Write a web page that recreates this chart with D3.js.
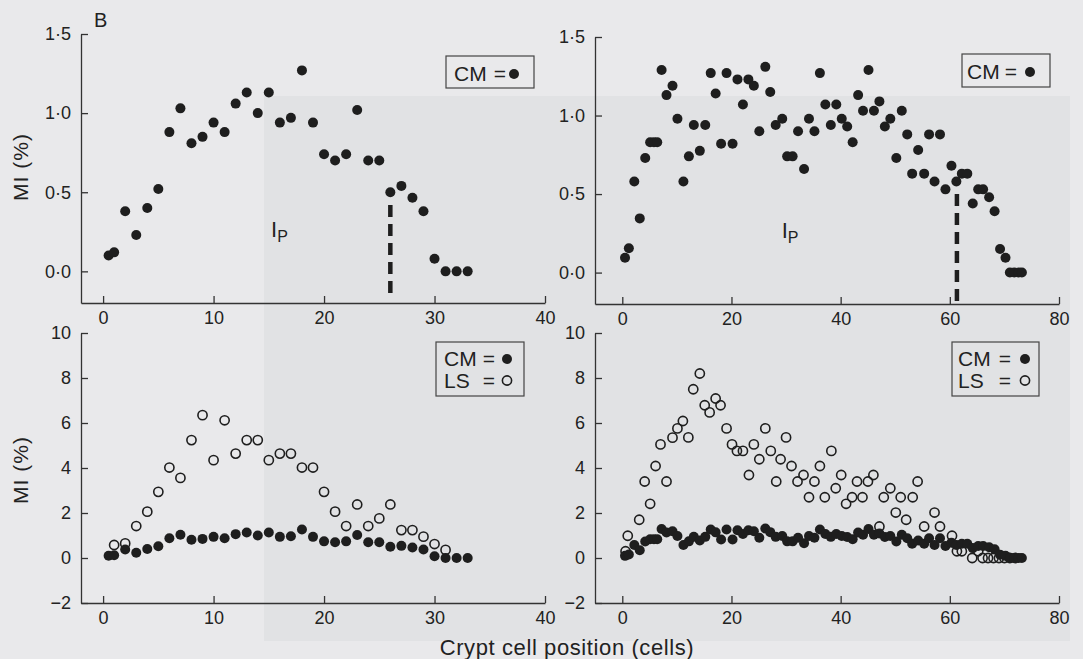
<!DOCTYPE html>
<html>
<head>
<meta charset="utf-8">
<script src="https://cdn.jsdelivr.net/npm/d3@7/dist/d3.min.js"></script>
<style>
  html, body { margin: 0; padding: 0; background: #e9e9eb; }
  svg { display: block; }
  text { font-family: "Liberation Sans", Arial, Helvetica, sans-serif; fill: #222; }
</style>
</head>
<body>
<div id="chart"></div>
<script>
// ---- data ----
// short crypts (top-left / bottom-left), CM = filled dots
const cellsShort = [0.5, 1, 2, 3, 4, 5, 6, 7, 8, 9, 10, 11, 12, 13, 14, 15, 16, 17, 18, 19, 20, 21, 22, 23, 24, 25, 26, 27, 28, 29, 30, 31, 32, 33]
const cmShort = [0.10, 0.12, 0.38, 0.23, 0.40, 0.52, 0.88, 1.03, 0.81, 0.85, 0.94, 0.88, 1.06, 1.13, 1.00, 1.13, 0.94, 0.97, 1.27, 0.94, 0.74, 0.70, 0.74, 1.02, 0.70, 0.70, 0.50, 0.54, 0.465, 0.38, 0.08, 0, 0, 0]
// short crypts, LS = open circles
const lsCellsShort = [1, 2, 3, 4, 5, 6, 7, 8, 9, 10, 11, 12, 13, 14, 15, 16, 17, 18, 19, 20, 21, 22, 23, 24, 25, 26, 27, 28, 29, 30, 31]
const lsShort = [0.58, 0.65, 1.42, 2.06, 2.94, 4.02, 3.56, 5.24, 6.35, 4.35, 6.12, 4.64, 5.24, 5.24, 4.35, 4.64, 4.64, 4.02, 4.02, 2.94, 2.06, 1.42, 2.38, 1.42, 1.76, 2.38, 1.24, 1.24, 0.95, 0.62, 0.36]

// long crypts (top-right / bottom-right), CM = filled dots
const cellsLong = [0.5, 1.2, 2.2, 3.2, 4.2, 5.1, 5.8, 6.4, 7.2, 8.1, 9.2, 10.1, 11.2, 12.2, 13.1, 14.2, 15.2, 16.2, 17.1, 18.1, 19.1, 20.2, 21.1, 22.1, 23.1, 24.1, 25.1, 26.2, 27.1, 28.1, 29.3, 30.2, 31.2, 32.2, 33.3, 34.2, 35.2, 36.2, 37.2, 38.2, 39.2, 40.2, 41.2, 42.2, 43.2, 44.1, 45.1, 46.1, 47.1, 48.1, 49.1, 50.2, 51.2, 52.2, 53.1, 54.2, 55.3, 56.2, 57.2, 58.2, 59.2, 60.3, 61.2, 62.2, 63.2, 64.2, 65.2, 66.1, 67.2, 68.2, 69.2, 70.2, 71, 71.8, 72.6, 73.2]
const cmLong = [0.095, 0.155, 0.58, 0.345, 0.73, 0.83, 0.83, 0.83, 1.29, 1.13, 1.19, 0.98, 0.58, 0.74, 0.94, 0.775, 0.94, 1.27, 1.14, 0.82, 1.27, 0.82, 1.23, 1.07, 1.23, 1.19, 0.90, 1.31, 1.15, 0.94, 0.98, 0.74, 0.74, 0.90, 0.66, 0.98, 0.90, 1.27, 1.07, 0.94, 1.07, 0.98, 0.93, 0.83, 1.13, 1.03, 1.29, 1.03, 1.09, 0.93, 0.98, 0.73, 1.03, 0.88, 0.63, 0.78, 0.63, 0.88, 0.58, 0.88, 0.53, 0.68, 0.58, 0.63, 0.63, 0.44, 0.53, 0.53, 0.48, 0.39, 0.15, 0.095, 0, 0, 0, 0]
// long crypts, LS = open circles
const lsCellsLong = [0.6, 1.0, 3.1, 4.1, 5.1, 6.1, 7.0, 8.1, 9.2, 10.1, 11.1, 12.1, 13.0, 14.2, 15.1, 16.0, 17.1, 18.0, 19.1, 20.1, 21.0, 22.1, 23.2, 24.1, 25.1, 26.2, 27.2, 28.2, 29.0, 30.0, 31.0, 32.1, 33.2, 34.2, 35.2, 36.2, 37.1, 38.3, 39.1, 40.1, 41.0, 42.1, 43.0, 44.0, 45.0, 46.0, 47.1, 47.9, 49.1, 50.1, 51.0, 52.0, 53.2, 54.1, 55.3, 57.2, 58.2, 60.4, 61.3, 62.2, 64.1, 65.2, 66.0, 67, 68, 69, 70, 71, 72]
const lsLong = [0.30, 0.99, 1.70, 3.40, 2.41, 4.09, 5.05, 3.40, 5.35, 5.76, 6.09, 5.36, 7.50, 8.20, 6.79, 6.47, 7.09, 6.79, 5.76, 5.05, 4.76, 4.76, 3.69, 5.05, 4.39, 5.76, 4.76, 3.40, 4.39, 5.36, 4.09, 3.40, 3.69, 2.70, 3.40, 4.09, 2.70, 4.76, 3.10, 3.69, 2.41, 2.70, 3.40, 2.70, 3.40, 3.69, 1.40, 2.70, 3.10, 2.02, 2.70, 1.70, 2.70, 3.40, 1.40, 2.02, 1.40, 0.99, 0.30, 0.30, 0, 0.30, 0, 0, 0, 0, 0, 0, 0]

// dashed I_P boundary: [cell, MI top, MI bottom]
const boundaryShort = [26, 0.42, -0.14]
const boundaryLong = [61.3, 0.5, -0.2]

const xTicksShort = [0, 10, 20, 30, 40]
const xTicksLong = [0, 20, 40, 60, 80]
const yTicksTop = [0, 0.5, 1.0, 1.5]
const yTicksBottom = [-2, 0, 2, 4, 6, 8, 10]

var width = 1083, height = 659

var svg = d3.select("#chart").append("svg")
  .attr("width", width)
  .attr("height", height)

// scanned page: slightly darker block behind the right-hand part
svg.append("rect")
  .attr("x", 264).attr("y", 96)
  .attr("width", 806).attr("height", 545)
  .attr("fill", "#e1e2e4")

const dot = "#1e1e1e"
const fmtTop = d => d3.format(".1f")(d).replace(".", "·")

function panel(p) {
  const x = d3.scaleLinear().domain(p.xDomain).range(p.xRange)
  const y = d3.scaleLinear().domain(p.yDomain).range(p.yRange)
  const g = svg.append("g")

  // open circles first (LS)
  if (p.lsX) {
    g.selectAll("circle.ls")
      .data(p.lsX.map((c, i) => [c, p.lsY[i]]))
      .enter().append("circle")
      .attr("class", "ls")
      .attr("cx", d => x(d[0]))
      .attr("cy", d => y(d[1]))
      .attr("r", 4.6)
      .attr("fill", "none")
      .attr("stroke", dot)
      .attr("stroke-width", 1.6)
  }

  g.selectAll("circle.cm")
    .data(p.cmX.map((c, i) => [c, p.cmY[i]]))
    .enter().append("circle")
    .attr("class", "cm")
    .attr("cx", d => x(d[0]))
    .attr("cy", d => y(d[1]))
    .attr("r", 5)
    .attr("fill", dot)

  if (p.boundary) {
    g.append("line")
      .attr("x1", x(p.boundary[0])).attr("x2", x(p.boundary[0]))
      .attr("y1", y(p.boundary[1])).attr("y2", y(p.boundary[2]))
      .attr("stroke", dot)
      .attr("stroke-width", 4.5)
      .attr("stroke-dasharray", "12,7")
    g.append("text")
      .attr("x", x(p.ipAt[0])).attr("y", y(p.ipAt[1]))
      .attr("font-size", 22)
      .text("I")
      .append("tspan")
      .attr("font-size", 16)
      .attr("dy", 5)
      .text("P")
  }

  var yAxis = d3.axisLeft(y)
    .tickValues(p.yTicks)
    .tickSize(-7)
    .tickSizeOuter(0)
    .tickPadding(10)
    .tickFormat(p.yFormat)
  g.append("g")
    .attr("class", "axis y-axis")
    .attr("transform", "translate(" + p.xRange[0] + ",0)")
    .call(yAxis)

  var xAxis = d3.axisBottom(x)
    .tickValues(p.xTicks)
    .tickSize(-7)
    .tickSizeOuter(0)
    .tickPadding(8)
  g.append("g")
    .attr("class", "axis x-axis")
    .attr("transform", "translate(0," + p.yRange[0] + ")")
    .call(xAxis)

  g.selectAll(".axis path, .axis line")
    .attr("stroke", "#333")
    .attr("stroke-width", 1.3)
  g.selectAll(".axis text")
    .attr("fill", "#222")
    .attr("font-size", 18)
    .attr("font-family", "Liberation Sans, Arial, sans-serif")

  // legend box
  const L = p.legend
  g.append("rect")
    .attr("x", L.x).attr("y", L.y)
    .attr("width", L.w).attr("height", L.h)
    .attr("fill", "none")
    .attr("stroke", "#444")
    .attr("stroke-width", 1.2)
  L.rows.forEach((r, i) => {
    const by = L.base + i * 21.5
    g.append("text").attr("x", L.tx).attr("y", by).attr("font-size", 21).text(r)
    g.append("text").attr("x", L.ex).attr("y", by).attr("font-size", 21)
      .attr("text-anchor", "middle").text("=")
    g.append("circle")
      .attr("cx", L.cx).attr("cy", by - 7)
      .attr("r", i === 0 ? 5 : 4.6)
      .attr("fill", i === 0 ? dot : "none")
      .attr("stroke", i === 0 ? "none" : dot)
      .attr("stroke-width", 1.6)
  })
}

panel({
  xDomain: [-2, 40], xRange: [81, 545], yDomain: [-0.2, 1.5], yRange: [303, 34],
  xTicks: xTicksShort, yTicks: yTicksTop, yFormat: fmtTop,
  cmX: cellsShort, cmY: cmShort, boundary: boundaryShort, ipAt: [15.2, 0.22],
  legend: { x: 446, y: 56, w: 88, h: 32, tx: 454, ex: 500, cx: 514, base: 81, rows: ["CM"] }
})
panel({
  xDomain: [-5, 80], xRange: [595, 1059], yDomain: [-0.2, 1.5], yRange: [304, 37],
  xTicks: xTicksLong, yTicks: yTicksTop, yFormat: fmtTop,
  cmX: cellsLong, cmY: cmLong, boundary: boundaryLong, ipAt: [29.2, 0.22],
  legend: { x: 962, y: 54, w: 88, h: 33, tx: 967, ex: 1011, cx: 1030, base: 79, rows: ["CM"] }
})
panel({
  xDomain: [-2, 40], xRange: [81, 545], yDomain: [-2, 10], yRange: [603, 333],
  xTicks: xTicksShort, yTicks: yTicksBottom, yFormat: d3.format("d"),
  cmX: cellsShort, cmY: cmShort, lsX: lsCellsShort, lsY: lsShort,
  legend: { x: 436, y: 342, w: 88, h: 54, tx: 444, ex: 489, cx: 507, base: 366, rows: ["CM", "LS"] }
})
panel({
  xDomain: [-5, 80], xRange: [595, 1059], yDomain: [-2, 10], yRange: [603, 333],
  xTicks: xTicksLong, yTicks: yTicksBottom, yFormat: d3.format("d"),
  cmX: cellsLong, cmY: cmLong, lsX: lsCellsLong, lsY: lsLong,
  legend: { x: 952, y: 342, w: 87, h: 54, tx: 958, ex: 1005, cx: 1025, base: 366, rows: ["CM", "LS"] }
})

// shared labels
svg.append("text").attr("x", 94).attr("y", 27).attr("font-size", 20).text("B")

;[167, 470].forEach(cy => {
  svg.append("text")
    .attr("transform", "translate(28," + cy + ") rotate(-90)")
    .attr("text-anchor", "middle")
    .attr("font-size", 21)
    .attr("letter-spacing", 1)
    .text("MI (%)")
})

svg.append("text")
  .attr("x", 567).attr("y", 655)
  .attr("text-anchor", "middle")
  .attr("font-size", 22)
  .attr("letter-spacing", 0.6)
  .text("Crypt cell position (cells)")
</script>
</body>
</html>
